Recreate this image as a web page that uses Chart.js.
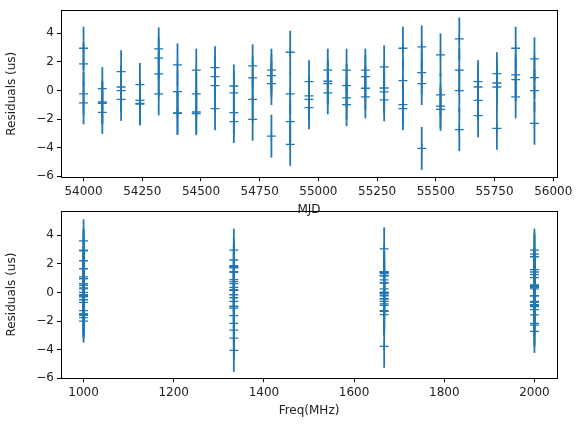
<!DOCTYPE html>
<html><head><meta charset="utf-8">
<script src="https://cdn.jsdelivr.net/npm/chart.js@4.4.0/dist/chart.umd.min.js"></script>
<style>
body{margin:0;background:#fff;width:585px;height:433px;position:relative;overflow:hidden}
.box{position:absolute}
</style></head><body>
<div class="box" style="left:0;top:0;width:585px;height:218px"><canvas id="top"></canvas></div>
<div class="box" style="left:0;top:200px;width:585px;height:233px"><canvas id="bot"></canvas></div>
<script>
// epochs (MJD) and four residuals per epoch (us), one per observing frequency
const MJD = [54000,54080,54160,54240,54320,54400,54480,54560,54640,54720,54800,54880,54960,
             55040,55120,55200,55280,55360,55440,55520,55600,55680,55760,55840,55920];
const RES = [
  [2.96,1.87,-0.23,-0.86],[0.14,-0.80,-0.90,-1.53],[1.32,0.25,0.00,-0.62],[0.42,-0.69,-0.95,-0.90],
  [2.91,2.27,1.16,-0.23],[1.80,-0.07,-1.57,-1.60],[1.43,-0.23,-1.50,-1.62],[1.60,0.97,0.35,-1.27],
  [0.32,-0.16,-1.55,-2.17],[1.73,0.88,-0.62,-2.01],[1.43,1.04,0.49,-3.19],[2.68,-0.23,-2.17,-3.77],
  [0.62,-0.37,-0.62,-1.20],[1.43,0.65,0.49,-0.16],[1.43,0.35,-0.51,-0.99],[1.43,0.97,0.16,-0.44],
  [1.66,0.18,-0.09,-0.65],[2.96,0.69,-0.99,-1.27],[3.05,1.25,0.49,-4.05],[2.50,-0.30,-1.09,-1.32],
  [3.61,1.43,0.00,-2.73],[0.62,0.25,-0.69,-1.76],[1.18,0.53,0.25,-2.64],[2.96,1.09,0.76,-0.44],
  [2.22,0.90,0.00,-2.29]];
const FREQS = [1000, 1333.3, 1666.7, 2000];
const MJD_TICKS = [54000,54250,54500,54750,55000,55250,55500,55750,56000];
const FREQ_TICKS = [1000,1200,1400,1600,1800,2000];
const RES_TICKS = [-6,-4,-2,0,2,4];
const ERR = 1.5;
const BLUE = '#1f77b4';

const topPts = [], botPts = [];
MJD.forEach((m, i) => RES[i].forEach((r, j) => {
  topPts.push({x: m, y: r});
  botPts.push({x: FREQS[(j + i) % 4], y: r});
}));

const errBars = {
  id: 'errBars',
  beforeDatasetsDraw(c) {
    const {ctx, scales: {x, y}} = c;
    ctx.save(); ctx.strokeStyle = BLUE; ctx.lineWidth = 1.8;
    c.data.datasets[0].data.forEach(p => {
      const px = x.getPixelForValue(p.x);
      ctx.beginPath();
      ctx.moveTo(px, y.getPixelForValue(p.y + ERR));
      ctx.lineTo(px, y.getPixelForValue(p.y - ERR));
      ctx.stroke();
    });
    ctx.restore();
  },
  afterDraw(c) {   // matplotlib-style full frame
    const {ctx, chartArea: a} = c;
    ctx.save(); ctx.strokeStyle = '#000'; ctx.lineWidth = 1;
    ctx.strokeRect(Math.round(a.left) + .5, Math.round(a.top) + .5, Math.round(a.width), Math.round(a.height));
    ctx.restore();
  }
};

const font = {family: 'DejaVu Sans', size: 12};
const fmt = v => String(v).replace('-', '\u2212');
function axis(min, max, ticks, title, fitW) {
  const s = {
    min, max, border: {display: false},
    grid: {display: true, drawOnChartArea: false, drawTicks: true, tickLength: 4, tickColor: '#000', color: '#000'},
    ticks: {color: '#222', font, padding: 3, autoSkip: false, maxRotation: 0, callback: fmt},
    afterBuildTicks: a => { a.ticks = ticks.map(v => ({value: v})); },
    title: {display: true, text: title, color: '#222', font, padding: 1}
  };
  if (fitW) s.afterFit = a => { a.width = fitW; };
  return s;
}
function make(id, pts, xs, ys, pad) {
  new Chart(document.getElementById(id), {
    type: 'scatter',
    data: {datasets: [{data: pts, pointStyle: 'cross', radius: 4.5, borderColor: BLUE, borderWidth: 1.3}]},
    options: {
      responsive: true, maintainAspectRatio: false, animation: false,
      layout: {padding: pad},
      plugins: {legend: {display: false}, tooltip: {enabled: false}},
      scales: {x: xs, y: ys}
    },
    plugins: [errBars]
  });
}
make('top', topPts,
  axis(53904, 56016, MJD_TICKS, 'MJD'),
  axis(-6.06, 5.62, RES_TICKS, 'Residuals (us)', 57),
  {left: 4, right: 28, top: 10, bottom: 0});
make('bot', botPts,
  axis(950, 2050, FREQ_TICKS, 'Freq(MHz)'),
  axis(-6, 5.7, RES_TICKS, 'Residuals (us)', 57),
  {left: 4, right: 28, top: 11, bottom: 14});
</script></body></html>
